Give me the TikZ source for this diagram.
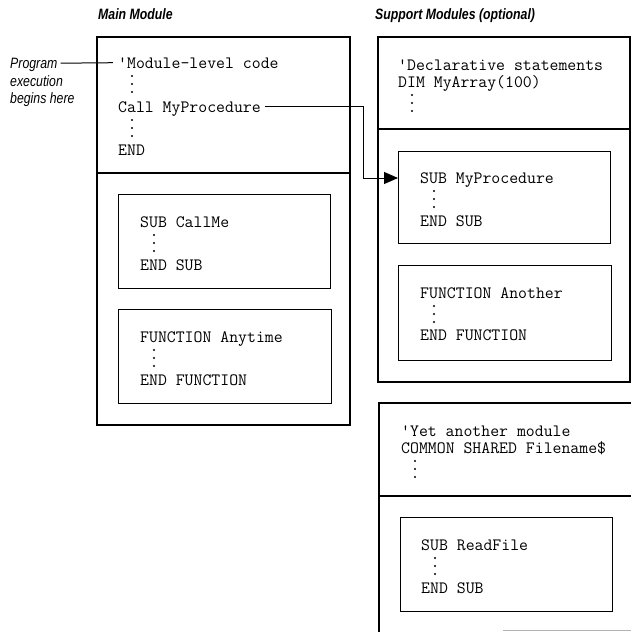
\documentclass[tikz,border=0pt]{standalone}
\usepackage{fontspec}
\newfontfamily\labfont{Liberation Sans}[FakeStretch=0.82]
\usetikzlibrary{arrows.meta}
\begin{document}
\begin{tikzpicture}[x=1pt,y=-1pt,
  code/.style={anchor=base west,inner sep=0pt,font=\fontsize{17.3}{20}\ttfamily},
  boxline/.style={draw,line width=1.2pt},
  ibox/.style={draw,line width=1.2pt,anchor=north west,inner sep=0pt,minimum width=212pt,minimum height=94pt},
  ttl/.style={anchor=base west,inner sep=0pt,font=\labfont\bfseries\itshape\fontsize{15}{18}\selectfont},
  lab/.style={anchor=base west,inner sep=0pt,font=\labfont\itshape\fontsize{15}{17.5}\selectfont},
  conn/.style={line width=1pt},
  vdot/.style={fill=black}
]
\useasboundingbox (0,0) rectangle (631,632);

% titles
\node[ttl] (tmain) at (98,19) {Main Module};
\node[ttl] (tsupp) at (375,19) {Support Modules (optional)};

% side label
\node[lab] (lab1) at (10,68.5) {Program};
\node[lab] (lab2) at (10,86) {execution};
\node[lab] (lab3) at (10,103.5) {begins here};

% ---------- main module ----------
\draw[boxline] (97,37) rectangle (350,425);
\draw[boxline] (97,173) -- (350,173);
\node[code] (mod1) at (118,68) {\textquotesingle Module-level code};
\foreach \y in {76,84,92} \fill[vdot] (132,\y) circle (1.1pt);
\node[code] (call) at (118,112) {Call MyProcedure};
\foreach \y in {120,128,136} \fill[vdot] (132,\y) circle (1.1pt);
\node[code] (mend) at (118,155) {END};

\node[ibox] (cmbox) at (118,194) {};
\node[code] (cmt) at (140,227) {SUB CallMe};
\foreach \y in {235,243,251} \fill[vdot] (154,\y) circle (1.1pt);
\node[code] (cme) at (140,270) {END SUB};

\node[ibox,minimum width=213pt] (atbox) at (118,309) {};
\node[code] (att) at (140,342) {FUNCTION Anytime};
\foreach \y in {350,358,366} \fill[vdot] (154,\y) circle (1.1pt);
\node[code] (ate) at (140,385) {END FUNCTION};

% ---------- support module 1 ----------
\draw[boxline] (378,37) rectangle (630,382);
\draw[boxline] (378,129) -- (630,129);
\node[code] (decl) at (398,70) {\textquotesingle Declarative statements};
\node[code] (dim) at (398,87) {DIM MyArray(100)};
\foreach \y in {95,103,111} \fill[vdot] (412,\y) circle (1.1pt);

\node[ibox,minimum height=92pt] (mpbox) at (398,151) {};
\node[code] (mpt) at (420,183) {SUB MyProcedure};
\foreach \y in {191,199,207} \fill[vdot] (434,\y) circle (1.1pt);
\node[code] (mpe) at (420,226) {END SUB};

\node[ibox,minimum width=213pt,minimum height=95pt] (anbox) at (398,265) {};
\node[code] (ant) at (420,298) {FUNCTION Another};
\foreach \y in {306,314,322} \fill[vdot] (434,\y) circle (1.1pt);
\node[code] (ane) at (420,340) {END FUNCTION};

% ---------- support module 2 ----------
\draw[boxline] (631,403) -- (379,403) -- (379,632);
\draw[boxline] (379,496) -- (631,496);
\draw[line width=1.6pt,gray!60] (503,630.5) -- (631,630.5);
\node[code] (yet) at (401,436) {\textquotesingle Yet another module};
\node[code] (com) at (401,453) {COMMON SHARED Filename\$};
\foreach \y in {461,469,477} \fill[vdot] (415,\y) circle (1.1pt);

\node[ibox] (rfbox) at (400,517) {};
\node[code] (rft) at (421,550) {SUB ReadFile};
\foreach \y in {558,566,574} \fill[vdot] (435,\y) circle (1.1pt);
\node[code] (rfe) at (421,593) {END SUB};

% ---------- connectors ----------
\draw[conn] ([xshift=3pt,yshift=5.3pt]lab1.base east) -- ([xshift=-5pt,yshift=5.3pt]mod1.base west);

\coordinate (cs) at ([xshift=4pt,yshift=5.3pt]call.base east);
\coordinate (elx) at (363,0);
\coordinate (ela) at (cs -| elx);
\coordinate (elb) at (363,178);
\draw[conn,-{Triangle[length=14pt,width=12pt]}] (cs) -- (ela) -- (elb) -- (elb -| mpbox.west);
\end{tikzpicture}
\end{document}
